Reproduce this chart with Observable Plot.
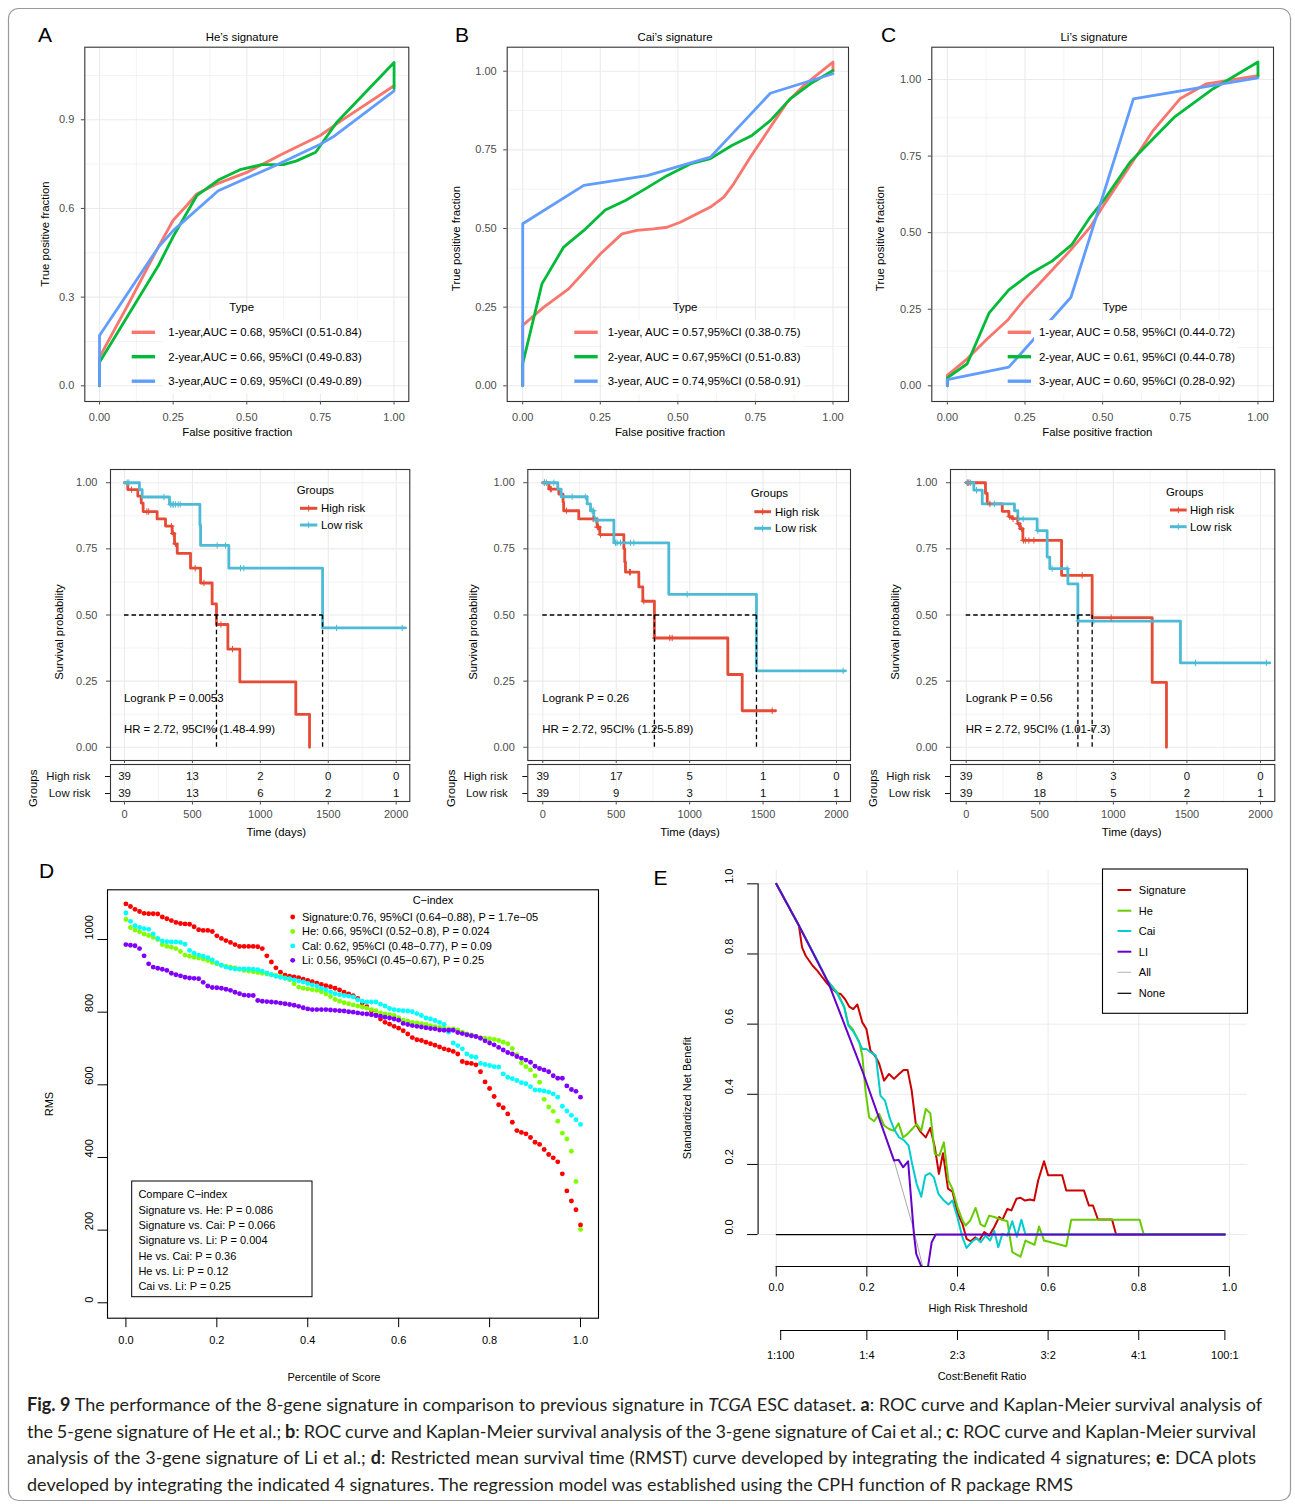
<!DOCTYPE html>
<html><head><meta charset="utf-8">
<script src="https://cdn.jsdelivr.net/npm/d3@7"></script>
<script src="https://cdn.jsdelivr.net/npm/@observablehq/plot@0.6"></script>
<style>
html,body{margin:0;padding:0;background:#fff;}
#root{position:relative;width:1295px;height:1504px;overflow:hidden;background:#fff;}
#root > svg{position:absolute;left:0;top:0;overflow:visible;}
</style></head><body><div id="root"></div>
<script>
// ======================= DATA =======================
// --- ROC curves: [false positive fraction, true positive fraction]
const rocTypes = ["1-year", "2-year", "3-year"];
const rocColors = ["#F8766D", "#00BA38", "#619CFF"];
const rocTitles = ["He\u2019s signature", "Cai\u2019s signature", "Li\u2019s signature"];
const rocXTicks = [0, 0.25, 0.5, 0.75, 1];
const heYTicks = [0, 0.3, 0.6, 0.9];
const caiYTicks = [0, 0.25, 0.5, 0.75, 1];
const liYTicks = [0, 0.25, 0.5, 0.75, 1];

const heROC1 = [[0,0],[0,0.097],[0.1,0.28],[0.2,0.47],[0.25,0.56],[0.296,0.61],[0.33,0.649],[0.398,0.683],[0.5,0.722],[0.624,0.786],[0.748,0.846],[0.821,0.897],[1,1.015]];
const heROC2 = [[0,0],[0,0.08],[0.2,0.407],[0.25,0.505],[0.33,0.643],[0.403,0.696],[0.477,0.731],[0.55,0.748],[0.624,0.748],[0.669,0.761],[0.734,0.79],[0.805,0.891],[1,1.094],[1,1.004]];
const heROC3 = [[0,0],[0,0.17],[0.2,0.469],[0.25,0.525],[0.403,0.66],[0.601,0.747],[0.748,0.816],[0.799,0.846],[1,0.998]];
const caiROC1 = [[0,0],[0,0.192],[0.068,0.25],[0.148,0.308],[0.197,0.361],[0.25,0.419],[0.32,0.483],[0.368,0.494],[0.422,0.499],[0.465,0.504],[0.508,0.52],[0.562,0.547],[0.605,0.568],[0.648,0.6],[0.68,0.642],[0.734,0.727],[0.798,0.822],[0.852,0.901],[0.905,0.954],[1,1.029],[1,1.0]];
const caiROC2 = [[0,0],[0,0.07],[0.062,0.324],[0.132,0.441],[0.197,0.494],[0.266,0.559],[0.331,0.589],[0.395,0.626],[0.465,0.668],[0.54,0.705],[0.605,0.722],[0.674,0.764],[0.739,0.796],[0.798,0.843],[0.862,0.912],[0.927,0.96],[1,1.002]];
const caiROC3 = [[0,0],[0,0.515],[0.197,0.637],[0.401,0.668],[0.605,0.727],[0.798,0.93],[1,0.992]];
const liROC1 = [[0,0],[0,0.034],[0.064,0.088],[0.128,0.153],[0.193,0.213],[0.246,0.279],[0.321,0.36],[0.396,0.442],[0.46,0.518],[0.503,0.589],[0.578,0.703],[0.663,0.834],[0.749,0.937],[0.834,0.986],[1,1.013]];
const liROC2 = [[0,0],[0,0.026],[0.064,0.072],[0.134,0.237],[0.198,0.313],[0.267,0.366],[0.337,0.407],[0.401,0.461],[0.46,0.551],[0.503,0.605],[0.588,0.73],[0.733,0.879],[0.856,0.97],[1,1.057],[1,1.01]];
const liROC3 = [[0,0],[0,0.02],[0.198,0.061],[0.398,0.289],[0.599,0.937],[1,1.005]];

const heLegend = ["1-year,AUC = 0.68, 95%CI (0.51-0.84)", "2-year,AUC = 0.66, 95%CI (0.49-0.83)", "3-year,AUC = 0.69, 95%CI (0.49-0.89)"];
const caiLegend = ["1-year, AUC = 0.57,95%CI (0.38-0.75)", "2-year, AUC = 0.67,95%CI (0.51-0.83)", "3-year, AUC = 0.74,95%CI (0.58-0.91)"];
const liLegend = ["1-year, AUC = 0.58, 95%CI (0.44-0.72)", "2-year, AUC = 0.61, 95%CI (0.44-0.78)", "3-year, AUC = 0.60, 95%CI (0.28-0.92)"];

// --- Kaplan-Meier curves (step times in days, survival)
const kmGroups = ["High risk", "Low risk"];
const kmColors = ["#E64B35", "#4DBBD5"];
const kmYTicks = [0, 0.25, 0.5, 0.75, 1];
const kmXTicks = [0, 500, 1000, 1500, 2000];

const kmHeHighT = [0,24,98,123,137,240,302,351,368,388,486,560,645,677,761,849,1261,1362];
const kmHeHighS = [1,0.974,0.949,0.923,0.891,0.863,0.836,0.808,0.769,0.733,0.677,0.621,0.542,0.464,0.371,0.247,0.124,0];
const kmHeLowT = [0,110,130,331,555,560,768,1458,2069];
const kmHeLowS = [1,0.974,0.946,0.918,0.84,0.763,0.677,0.451,0.451];
const kmHeHighCens = [52,165,178,345,358,375,520,585,710,795];
const kmHeLowCens = [20,32,290,340,350,360,375,395,410,682,743,854,878,1561,2044];
const kmHeMedian = [677,1458];
const kmHeRiskHigh = [39,13,2,0,0];
const kmHeRiskLow = [39,13,6,2,1];
const kmHeText = ["Logrank P = 0.0053", "HR = 2.72, 95CI% (1.48-4.99)"];

const kmCaiHighT = [0,41,109,138,142,245,370,388,552,558,563,654,681,760,1260,1358,1585];
const kmCaiHighS = [1,0.976,0.957,0.926,0.894,0.863,0.832,0.804,0.75,0.7,0.662,0.606,0.552,0.413,0.275,0.138,0.138];
const kmCaiLowT = [0,102,125,302,325,347,352,484,858,1455,2061];
const kmCaiLowS = [1,0.976,0.947,0.92,0.894,0.87,0.859,0.773,0.578,0.289,0.289];
const kmCaiHighCens = [11,52,58,161,343,372,380,393,590,597,688,765,865,881,1562];
const kmCaiLowCens = [11,25,75,200,290,336,345,358,370,495,506,529,597,620,983,2045];
const kmCaiMedian = [760,1455];
const kmCaiRiskHigh = [39,17,5,1,0];
const kmCaiRiskLow = [39,9,3,1,1];
const kmCaiText = ["Logrank P = 0.26", "HR = 2.72, 95CI% (1.25-5.89)"];

const kmLiHighT = [0,131,143,245,290,313,351,365,385,648,856,1264,1361];
const kmLiHighS = [1,0.96,0.92,0.892,0.872,0.864,0.845,0.826,0.782,0.65,0.49,0.245,0];
const kmLiLowT = [0,52,109,328,351,482,550,568,691,759,1456,2063];
const kmLiLowS = [1,0.972,0.92,0.894,0.863,0.819,0.719,0.675,0.618,0.477,0.319,0.319];
const kmLiHighCens = [7,18,161,295,318,347,355,376,389,402,426,460,788,985];
const kmLiLowCens = [11,29,70,192,355,387,487,584,686,765,867,1558,2040];
const kmLiMedian = [759,856];
const kmLiRiskHigh = [39,8,3,0,0];
const kmLiRiskLow = [39,18,5,2,1];
const kmLiText = ["Logrank P = 0.56", "HR = 2.72, 95CI% (1.01-7.3)"];

// --- D: RMS vs percentile of score (points ordered by percentile 0..1)
const rmsSignature = [1098,1091,1083,1077,1072,1071,1071,1070,1062,1057,1052,1047,1044,1043,1042,1035,1027,1025,1025,1022,1010,1003,997,992,986,981,981,981,981,980,975,955,938,922,910,902,899,897,895,891,887,884,880,876,873,870,866,861,855,850,845,838,825,815,803,792,781,772,767,761,756,749,740,730,724,722,717,713,709,704,699,696,692,685,664,660,659,655,636,608,590,568,545,537,520,497,474,469,465,455,442,436,422,408,399,388,355,308,280,256,214];
const rmsHe = [1055,1033,1026,1021,1015,1011,1006,1000,986,981,979,975,967,957,954,951,949,946,942,937,933,929,926,924,922,918,915,913,911,909,907,905,903,901,898,894,889,878,869,866,864,862,860,856,850,843,835,830,826,823,820,817,814,811,807,804,798,795,793,791,785,778,775,772,770,768,766,763,760,758,756,754,754,751,745,740,737,733,730,728,727,725,722,717,713,700,683,660,650,641,625,607,560,539,527,500,467,451,417,334,202];
const rmsCai = [1073,1050,1038,1033,1030,1028,1015,1003,996,994,993,993,992,987,970,962,957,954,950,944,936,929,924,921,919,919,919,919,918,917,913,908,903,899,896,893,892,889,886,883,879,875,872,866,861,856,851,848,846,844,842,834,830,828,828,828,822,817,810,807,805,804,803,801,796,791,784,781,777,772,766,745,715,708,699,685,678,676,659,656,653,650,649,630,621,617,612,606,603,595,586,585,583,580,575,566,541,528,516,504,491];
const rmsLi = [986,984,983,975,955,933,924,921,918,915,907,903,900,896,894,893,892,882,872,868,867,866,863,860,855,851,847,846,846,832,830,829,828,827,825,823,821,819,816,812,809,807,807,807,807,806,805,804,803,801,800,798,796,795,793,791,789,786,784,781,778,769,766,763,761,759,757,755,754,751,750,750,750,744,741,738,735,733,728,721,715,710,703,696,689,685,678,673,668,662,651,645,641,636,625,618,618,597,587,582,566];
const rmsNames = ["Signature", "He", "Cai", "Li"];
const rmsColors = ["#FF0000", "#80FF00", "#00FFFF", "#8000FF"];
const rmsXTicks = [0, 0.2, 0.4, 0.6, 0.8, 1];
const rmsYTicks = [0, 200, 400, 600, 800, 1000];
const rmsLegend = ["Signature:0.76, 95%CI (0.64\u22120.88), P = 1.7e\u221205", "He: 0.66, 95%CI (0.52\u22120.8), P = 0.024", "Cal: 0.62, 95%CI (0.48\u22120.77), P = 0.09", "Li: 0.56, 95%CI (0.45\u22120.67), P = 0.25"];
const rmsCompare = ["Compare C\u2212index", "Signature vs. He: P = 0.086", "Signature vs. Cai: P = 0.066", "Signature vs. Li: P = 0.004", "He vs. Cai: P = 0.36", "He vs. Li: P = 0.12", "Cai vs. Li: P = 0.25"];

// --- E: decision curves [threshold, standardized net benefit]
const dcaAll = [[0,1.0],[0.05,0.881],[0.116,0.715],[0.19,0.467],[0.26,0.211],[0.3,0.03],[0.325,-0.1]];
const dcaNone = [[0,0],[0.99,0]];
const dcaSignature = [[0,1.0],[0.05,0.881],[0.057,0.819],[0.065,0.795],[0.08,0.767],[0.091,0.752],[0.102,0.733],[0.113,0.715],[0.124,0.70],[0.135,0.688],[0.142,0.686],[0.152,0.671],[0.161,0.65],[0.17,0.643],[0.179,0.656],[0.19,0.605],[0.199,0.586],[0.208,0.524],[0.218,0.51],[0.227,0.488],[0.238,0.439],[0.249,0.458],[0.26,0.444],[0.271,0.458],[0.281,0.469],[0.29,0.469],[0.299,0.41],[0.308,0.315],[0.319,0.292],[0.33,0.277],[0.34,0.304],[0.35,0.249],[0.359,0.173],[0.368,0.232],[0.379,0.131],[0.389,0.122],[0.4,0.062],[0.411,0.03],[0.42,-0.012],[0.429,-0.019],[0.439,-0.008],[0.448,-0.017],[0.459,0.007],[0.47,-0.003],[0.481,0.021],[0.492,0.05],[0.499,0.042],[0.51,0.073],[0.519,0.069],[0.53,0.102],[0.539,0.105],[0.549,0.097],[0.56,0.1],[0.569,0.097],[0.578,0.154],[0.591,0.209],[0.6,0.169],[0.631,0.169],[0.64,0.126],[0.679,0.126],[0.69,0.083],[0.699,0.083],[0.71,0.043],[0.741,0.043],[0.75,0],[0.99,0]];
const dcaHe = [[0,1.0],[0.05,0.881],[0.087,0.79],[0.113,0.724],[0.135,0.69],[0.15,0.65],[0.159,0.60],[0.169,0.585],[0.183,0.55],[0.19,0.51],[0.197,0.41],[0.205,0.334],[0.216,0.323],[0.227,0.344],[0.238,0.311],[0.249,0.301],[0.26,0.296],[0.27,0.317],[0.28,0.277],[0.29,0.287],[0.3,0.301],[0.31,0.315],[0.32,0.296],[0.33,0.358],[0.34,0.346],[0.35,0.23],[0.36,0.225],[0.37,0.263],[0.38,0.154],[0.389,0.13],[0.4,0.078],[0.411,0.04],[0.418,0.026],[0.428,0.04],[0.44,0.076],[0.451,0.029],[0.46,0.023],[0.47,0.054],[0.481,0.05],[0.492,0.045],[0.51,0.038],[0.521,-0.05],[0.539,-0.063],[0.55,-0.017],[0.57,-0.029],[0.58,0.023],[0.591,-0.017],[0.64,-0.033],[0.651,0.042],[0.802,0.042],[0.811,0],[0.99,0]];
const dcaCai = [[0,1.0],[0.05,0.881],[0.087,0.79],[0.113,0.724],[0.135,0.686],[0.15,0.648],[0.159,0.596],[0.169,0.581],[0.179,0.558],[0.19,0.529],[0.199,0.529],[0.208,0.52],[0.22,0.51],[0.23,0.396],[0.24,0.382],[0.25,0.334],[0.26,0.301],[0.271,0.277],[0.281,0.27],[0.292,0.254],[0.3,0.201],[0.31,0.144],[0.32,0.108],[0.329,0.168],[0.339,0.175],[0.348,0.163],[0.358,0.116],[0.37,0.097],[0.38,0.086],[0.389,0.097],[0.4,0.049],[0.411,-0.008],[0.42,-0.038],[0.433,-0.019],[0.443,-0.01],[0.451,-0.022],[0.462,-0.003],[0.472,-0.017],[0.481,0.011],[0.49,-0.036],[0.499,0.002],[0.51,-0.003],[0.521,0.038],[0.531,-0.006],[0.541,0.042],[0.55,0],[0.99,0]];
const dcaLi = [[0,1.0],[0.05,0.881],[0.116,0.715],[0.19,0.467],[0.26,0.211],[0.27,0.213],[0.28,0.192],[0.291,0.209],[0.304,0.0],[0.309,-0.055],[0.323,-0.1],[0.334,-0.1],[0.343,-0.022],[0.352,0],[0.99,0]];
const dcaNames = ["Signature", "He", "Cai", "LI", "All", "None"];
const dcaColors = ["#CC0000", "#66CC00", "#00CCCC", "#6600CC", "#BEBEBE", "#000000"];
const dcaXTicks = [0, 0.2, 0.4, 0.6, 0.8, 1];
const dcaYTicks = [0, 0.2, 0.4, 0.6, 0.8, 1];
const cbTicks = [0.0099, 0.2, 0.4, 0.6, 0.8, 0.9901];
const cbLabels = ["1:100", "1:4", "2:3", "3:2", "4:1", "100:1"];

// ======================= BUILD =======================
const NS = "http://www.w3.org/2000/svg";
const FONT = "'Liberation Sans', Arial, Helvetica, sans-serif";
const W = 1295, H = 1504;
const root = document.getElementById("root");
const GRID = "#EBEBEB";

function base(l, t, r, b, color) {
  return {width: W, height: H, marginLeft: l, marginTop: t, marginRight: W - r, marginBottom: H - b,
    style: {fontFamily: FONT, fontSize: "11px", background: "transparent", color: color || "#4d4d4d", overflow: "visible"}};
}
function add(p) { p.style.position = "absolute"; p.style.left = "0px"; p.style.top = "0px"; p.style.maxWidth = "none"; root.appendChild(p); }

// ---- ROC panels
function roc(l, t, r, b, yDomain, yTicks, yMinor, yFmt, series) {
  return Plot.plot({...base(l, t, r, b), x: {domain: [-0.05, 1.05]}, y: {domain: yDomain},
    marks: [
      Plot.ruleX([0.125, 0.375, 0.625, 0.875], {stroke: GRID, strokeWidth: 0.6}),
      Plot.ruleY(yMinor, {stroke: GRID, strokeWidth: 0.6}),
      Plot.ruleX(rocXTicks, {stroke: GRID, strokeWidth: 1.1}),
      Plot.ruleY(yTicks, {stroke: GRID, strokeWidth: 1.1}),
      ...series.map((s, i) => Plot.line(s, {x: d => d[0], y: d => d[1], stroke: rocColors[i], strokeWidth: 2.8})),
      Plot.frame({stroke: "#333", strokeWidth: 1.1}),
      Plot.axisX(rocXTicks, {tickSize: 3.5, tickPadding: 8, tickFormat: ".2f", fontSize: 11, label: null}),
      Plot.axisY(yTicks, {tickSize: 3.5, tickPadding: 7, tickFormat: yFmt, fontSize: 11, label: null})
    ]});
}
add(roc(84.3, 46.7, 408.3, 401, [-0.0531, 1.1455], heYTicks, [0.15, 0.45, 0.75, 1.05], ".1f", [heROC1, heROC2, heROC3]));
add(roc(506.7, 46.7, 848, 401, [-0.0499, 1.0763], caiYTicks, [0.125, 0.375, 0.625, 0.875], ".2f", [caiROC1, caiROC2, caiROC3]));
add(roc(931.3, 46.7, 1273, 401, [-0.0513, 1.1055], liYTicks, [0.125, 0.375, 0.625, 0.875], ".2f", [liROC1, liROC2, liROC3]));

// ---- KM panels
function stepAt(T, S, t) { let s = S[0]; for (let i = 0; i < T.length; i++) if (T[i] <= t) s = S[i]; return s; }
function km(l, r, xDomain, hiT, hiS, loT, loS, hiC, loC, med, riskHi, riskLo) {
  const hi = hiT.map((t, i) => ({t, s: hiS[i]}));
  const lo = loT.map((t, i) => ({t, s: loS[i]}));
  const hc = hiC.map(t => ({t, s: stepAt(hiT, hiS, t)}));
  const lc = loC.map(t => ({t, s: stepAt(loT, loS, t)}));
  const medMax = d3.max(med);
  const dash = {stroke: "#000", strokeWidth: 1.3, strokeDasharray: "4.5,3"};
  add(Plot.plot({...base(l, 469, r, 760), x: {domain: xDomain}, y: {domain: [-0.05, 1.05]},
    marks: [
      Plot.ruleX([250, 750, 1250, 1750], {stroke: GRID, strokeWidth: 0.6}),
      Plot.ruleY([0.125, 0.375, 0.625, 0.875], {stroke: GRID, strokeWidth: 0.6}),
      Plot.ruleX(kmXTicks, {stroke: GRID, strokeWidth: 1.1}),
      Plot.ruleY(kmYTicks, {stroke: GRID, strokeWidth: 1.1}),
      Plot.line(hi, {x: "t", y: "s", curve: "step-after", stroke: kmColors[0], strokeWidth: 2.8}),
      Plot.line(lo, {x: "t", y: "s", curve: "step-after", stroke: kmColors[1], strokeWidth: 2.8}),
      Plot.dot(hc, {x: "t", y: "s", symbol: "plus", r: 2.2, stroke: kmColors[0], fill: "none", strokeWidth: 1}),
      Plot.dot(lc, {x: "t", y: "s", symbol: "plus", r: 2.2, stroke: kmColors[1], fill: "none", strokeWidth: 1}),
      Plot.ruleY([0.5], {x1: () => 0, x2: () => medMax, ...dash}),
      Plot.ruleX(med, {x: d => d, y1: () => 0, y2: () => 0.5, ...dash}),
      Plot.frame({stroke: "#333", strokeWidth: 1.1}),
      Plot.axisY(kmYTicks, {tickSize: 4, tickPadding: 9, tickFormat: ".2f", fontSize: 11, label: null}),
      Plot.axisX(kmXTicks, {tickSize: 3, tickFormat: () => "", label: null})
    ]}));
  const risk = kmGroups.flatMap((g, gi) => kmXTicks.map((t, i) => ({t, g, n: (gi ? riskLo : riskHi)[i]})));
  add(Plot.plot({...base(l, 764, r, 801), x: {domain: xDomain},
    y: {type: "point", domain: kmGroups, range: [775.7, 792.7], padding: 0},
    marks: [
      Plot.ruleX([250, 750, 1250, 1750], {stroke: GRID, strokeWidth: 0.6}),
      Plot.ruleX(kmXTicks, {stroke: GRID, strokeWidth: 1.1}),
      Plot.text(risk, {x: "t", y: "g", text: d => String(d.n), fill: "#111", fontSize: 11.4}),
      Plot.frame({stroke: "#333", strokeWidth: 1.1}),
      Plot.axisY(kmGroups, {tickSize: 5, tickPadding: 15, fontSize: 11.4, color: "#111", label: null}),
      Plot.axisX(kmXTicks, {tickSize: 3.5, tickPadding: 5.5, tickFormat: "d", fontSize: 11, label: null})
    ]}));
}
km(110, 409.3, [-103.1, 2100.1], kmHeHighT, kmHeHighS, kmHeLowT, kmHeLowS, kmHeHighCens, kmHeLowCens, kmHeMedian, kmHeRiskHigh, kmHeRiskLow);
km(527.3, 850, [-102.1, 2095.3], kmCaiHighT, kmCaiHighS, kmCaiLowT, kmCaiLowS, kmCaiHighCens, kmCaiLowCens, kmCaiMedian, kmCaiRiskHigh, kmCaiRiskLow);
km(950, 1274.3, [-106.7, 2097.1], kmLiHighT, kmLiHighS, kmLiLowT, kmLiLowS, kmLiHighCens, kmLiLowCens, kmLiMedian, kmLiRiskHigh, kmLiRiskLow);

// ---- D: RMS scatter
const rmsSeries = [rmsSignature, rmsHe, rmsCai, rmsLi];
add(Plot.plot({...base(107, 889.3, 598, 1317.7, "#000"), x: {domain: [-0.0405, 1.0396]}, y: {domain: [-42.4, 1136.8]},
  marks: [
    ...rmsSeries.map((arr, k) => Plot.dot(arr.map((v, i) => ({p: i / (arr.length - 1), v})), {x: "p", y: "v", r: 2.45, fill: rmsColors[k], stroke: "none"})),
    Plot.frame({stroke: "#000", strokeWidth: 1.1}),
    Plot.axisX(rmsXTicks, {tickSize: 9.5, tickPadding: 8, tickFormat: ".1f", fontSize: 11, color: "#000", label: null}),
    Plot.axisY(rmsYTicks, {tickSize: 9.5, tickFormat: () => "", color: "#000", label: null}),
    Plot.text(rmsYTicks, {y: d => d, frameAnchor: "left", dx: -18, rotate: -90, text: d => String(d), fill: "#000", fontSize: 11})
  ]}));

// ---- E: decision curves
const eXDom = [-0.04, 1.04], eYDom = [-0.091, 1.038];
const dcaSeries = [dcaSignature, dcaHe, dcaCai];
add(Plot.plot({...base(757.6, 870, 1247, 1266, "#000"), x: {domain: eXDom}, y: {domain: eYDom},
  marks: [
    Plot.ruleX(dcaXTicks, {stroke: GRID, strokeWidth: 1}),
    Plot.ruleY(dcaYTicks, {stroke: GRID, strokeWidth: 1}),
    Plot.line(dcaNone, {x: d => d[0], y: d => d[1], stroke: dcaColors[5], strokeWidth: 1.1}),
    Plot.line(dcaAll, {x: d => d[0], y: d => d[1], stroke: "#A8A8A8", strokeWidth: 1, clip: true}),
    ...dcaSeries.map((s, i) => Plot.line(s, {x: d => d[0], y: d => d[1], stroke: dcaColors[i], strokeWidth: 2, clip: true})),
    Plot.line(dcaLi, {x: d => d[0], y: d => d[1], stroke: dcaColors[3], strokeWidth: 2, clip: true}),
    Plot.ruleY([eYDom[0]], {x1: () => 0, x2: () => 1, stroke: "#000", strokeWidth: 1.1}),
    Plot.ruleX([eXDom[0]], {y1: () => 0, y2: () => 1, stroke: "#000", strokeWidth: 1.1}),
    Plot.axisX(dcaXTicks, {tickSize: 10.5, tickPadding: 6, tickFormat: ".1f", fontSize: 11, color: "#000", label: null}),
    Plot.axisY(dcaYTicks, {tickSize: 10.5, tickFormat: () => "", color: "#000", label: null}),
    Plot.text(dcaYTicks, {y: d => d, frameAnchor: "left", dx: -28.6, rotate: -90, text: d => d3.format(".1f")(d), fill: "#000", fontSize: 11})
  ]}));
add(Plot.plot({...base(757.6, 1329, 1247, 1330, "#000"), x: {domain: eXDom}, y: {domain: [0, 1], axis: null},
  marks: [
    Plot.ruleY([0], {x1: () => cbTicks[0], x2: () => cbTicks[cbTicks.length - 1], stroke: "#000", strokeWidth: 1.1}),
    Plot.axisX(cbTicks, {tickSize: 10, tickPadding: 11, tickFormat: d => cbLabels[cbTicks.indexOf(d)], fontSize: 11, color: "#000", label: null})
  ]}));

// ======================= OVERLAY (labels, legends, caption) =======================
const ov = document.createElementNS(NS, "svg");
ov.setAttribute("width", W); ov.setAttribute("height", H);
root.appendChild(ov);
function T(x, y, s, o = {}) {
  const e = document.createElementNS(NS, "text");
  e.setAttribute("x", x); e.setAttribute("y", y);
  e.setAttribute("font-family", o.family || FONT);
  e.setAttribute("font-size", o.size || 11.4);
  e.setAttribute("fill", o.fill || "#000");
  e.setAttribute("text-anchor", o.anchor || "start");
  e.setAttribute("dominant-baseline", "central");
  if (o.rotate) e.setAttribute("transform", `rotate(${o.rotate} ${x} ${y})`);
  e.textContent = s; ov.appendChild(e); return e;
}
function L(x1, y1, x2, y2, stroke, w) {
  const e = document.createElementNS(NS, "line");
  e.setAttribute("x1", x1); e.setAttribute("y1", y1); e.setAttribute("x2", x2); e.setAttribute("y2", y2);
  e.setAttribute("stroke", stroke); e.setAttribute("stroke-width", w); ov.appendChild(e); return e;
}
function R(x, y, w, h, fill, stroke, sw, rx) {
  const e = document.createElementNS(NS, "rect");
  e.setAttribute("x", x); e.setAttribute("y", y); e.setAttribute("width", w); e.setAttribute("height", h);
  e.setAttribute("fill", fill || "none"); if (stroke) { e.setAttribute("stroke", stroke); e.setAttribute("stroke-width", sw || 1); }
  if (rx) e.setAttribute("rx", rx);
  ov.appendChild(e); return e;
}
function C(x, y, r, fill) {
  const e = document.createElementNS(NS, "circle");
  e.setAttribute("cx", x); e.setAttribute("cy", y); e.setAttribute("r", r); e.setAttribute("fill", fill); ov.appendChild(e); return e;
}

// outer border
R(8.5, 8.5, 1282, 1492, "none", "#9a9a9a", 1.2, 10);

// panel letters
T(38, 34.5, "A", {size: 21}); T(455, 34.5, "B", {size: 21}); T(881, 34.5, "C", {size: 21});
T(39, 870.5, "D", {size: 21}); T(653.5, 877.5, "E", {size: 21});

// ROC titles/labels/legends
const rocCfg = [
  {title: [242, 37], xl: [237.3, 431.7], yl: [45, 234], type: 241.7, k1: 131.7, k2: 155, tx: 168.3, labels: heLegend},
  {title: [675, 37], xl: [670, 431.7], yl: [456, 238.5], type: 685, k1: 574.3, k2: 597.7, tx: 607.7, labels: caiLegend},
  {title: [1094, 37], xl: [1097.3, 431.7], yl: [880, 238.5], type: 1115, k1: 1007.7, k2: 1031, tx: 1039, labels: liLegend}
];
rocCfg.forEach((c, j) => {
  T(c.title[0], c.title[1], rocTitles[j], {anchor: "middle"});
  T(c.xl[0], c.xl[1], "False positive fraction", {anchor: "middle"});
  T(c.yl[0], c.yl[1], "True positive fraction", {anchor: "middle", rotate: -90});
  T(c.type, 306.7, "Type", {anchor: "middle"});
  const rows = [332.3, 356.7, 381.2];
  c.labels.forEach((lab, i) => {
    const te = T(c.tx, rows[i], lab);
    const w = te.getComputedTextLength();
    const bg = R(c.tx - 5, rows[i] - 12.2, w + 8, 24.4, "#fff");
    ov.insertBefore(bg, te);
    L(c.k1, rows[i], c.k2, rows[i], rocColors[i], 3.4);
  });
});

// KM labels/legends
const kmCfg = [
  {yl: 59, gx: 296.7, gy: 490, rows: [508.3, 525], k1: 300, k2: 317.3, tx: 321, lx: 124, txt: kmHeText, tg: 33.3, time: 276.3},
  {yl: 472.7, gx: 750.7, gy: 493.3, rows: [511.7, 528.3], k1: 754.3, k2: 771, tx: 775, lx: 542.3, txt: kmCaiText, tg: 451, time: 690},
  {yl: 895, gx: 1166, gy: 492.3, rows: [510, 526.7], k1: 1170, k2: 1186.7, tx: 1190, lx: 965.7, txt: kmLiText, tg: 873.3, time: 1131.7}
];
kmCfg.forEach(c => {
  T(c.yl, 632, "Survival probability", {anchor: "middle", rotate: -90});
  T(c.gx, c.gy, "Groups");
  kmGroups.forEach((g, i) => {
    L(c.k1, c.rows[i], c.k2, c.rows[i], kmColors[i], 3);
    const mx = (c.k1 + c.k2) / 2;
    L(mx - 3.2, c.rows[i], mx + 3.2, c.rows[i], kmColors[i], 1);
    L(mx, c.rows[i] - 3.2, mx, c.rows[i] + 3.2, kmColors[i], 1);
    T(c.tx, c.rows[i], g);
  });
  T(c.lx, 698, c.txt[0]);
  T(c.lx, 729, c.txt[1]);
  T(c.tg, 788.3, "Groups", {anchor: "middle", rotate: -90});
  T(c.time, 831.7, "Time (days)", {anchor: "middle"});
});

// D labels / legends
T(433, 900, "C\u2212index", {anchor: "middle", size: 11});
rmsLegend.forEach((s, i) => { const y = 917 + i * 14.45; C(292.7, y, 2.45, rmsColors[i]); T(302, y, s, {size: 11}); });
R(131.7, 1181, 180.3, 115.7, "none", "#000", 1);
rmsCompare.forEach((s, i) => T(138.4, 1194.3 + i * 15.33, s, {size: 11}));
T(334, 1377, "Percentile of Score", {anchor: "middle", size: 11});
T(48.5, 1104, "RMS", {anchor: "middle", size: 11, rotate: -90});

// E labels / legend
R(1102.5, 869, 145, 144.3, "#fff", "#000", 1.1);
dcaNames.forEach((s, i) => {
  const y = [890, 910.7, 931, 951.7, 972.3, 993.3][i];
  L(1117.5, y, 1131.3, y, i === 4 ? "#BEBEBE" : dcaColors[i], i < 4 ? 2 : 1.2);
  T(1138.8, y, s, {size: 11});
});
T(978, 1308, "High Risk Threshold", {anchor: "middle", size: 11});
T(982, 1376, "Cost:Benefit Ratio", {anchor: "middle", size: 11});
T(687.4, 1098, "Standardized Net Benefit", {anchor: "middle", size: 11, rotate: -90});

// caption: natural glyphs, justified with word spacing (last line ragged)
const capX = 27;
const CAPFONT = "Lato, 'Open Sans', 'Noto Sans', sans-serif";
const capLines = [
  {y: 1411, end: 1262, parts: [["Fig. 9 ", "b"], ["The performance of the 8-gene signature in comparison to previous signature in "], ["TCGA", "i"], [" ESC dataset. "], ["a", "b"], [": ROC curve and Kaplan-Meier survival analysis of"]]},
  {y: 1437.5, end: 1256, parts: [["the 5-gene signature of He et al.; "], ["b", "b"], [": ROC curve and Kaplan-Meier survival analysis of the 3-gene signature of Cai et al.; "], ["c", "b"], [": ROC curve and Kaplan-Meier survival"]]},
  {y: 1464, end: 1256, parts: [["analysis of the 3-gene signature of Li et al.; "], ["d", "b"], [": Restricted mean survival time (RMST) curve developed by integrating the indicated 4 signatures; "], ["e", "b"], [": DCA plots"]]},
  {y: 1490.5, end: 1077, last: true, parts: [["developed by integrating the indicated 4 signatures. The regression model was established using the CPH function of R package RMS"]]}
];
function capPart(s, f, y, size) {
  const e = document.createElementNS(NS, "text");
  e.setAttribute("x", capX); e.setAttribute("y", y);
  e.setAttribute("font-family", CAPFONT);
  e.setAttribute("font-size", size);
  e.setAttribute("fill", "#231F20");
  e.setAttribute("style", "white-space:pre");
  if (f === "b") e.setAttribute("font-weight", "bold");
  if (f === "i") e.setAttribute("font-style", "italic");
  e.textContent = s; ov.appendChild(e); return e;
}
// pick the font size from the first line's natural width
const probe = capLines[0].parts.map(([s, f]) => capPart(s, f, -100, 19));
const nat1 = d3.sum(probe, e => e.getComputedTextLength());
probe.forEach(e => e.remove());
const CAPSIZE = Math.max(16.5, Math.min(19.5, 19 * (capLines[0].end - capX) / nat1));
capLines.forEach(cl => {
  const els = cl.parts.map(([s, f]) => capPart(s, f, cl.y, CAPSIZE));
  const widths = els.map(e => e.getComputedTextLength());
  const spaces = cl.parts.map(([s]) => (s.match(/ /g) || []).length);
  const total = d3.sum(widths), nsp = d3.sum(spaces);
  const ws = cl.last ? 0 : (cl.end - capX - total) / nsp;
  let x = capX;
  els.forEach((e, i) => {
    e.setAttribute("x", x);
    if (ws) e.setAttribute("word-spacing", ws.toFixed(3));
    x += widths[i] + ws * spaces[i];
  });
});
</script></body></html>
